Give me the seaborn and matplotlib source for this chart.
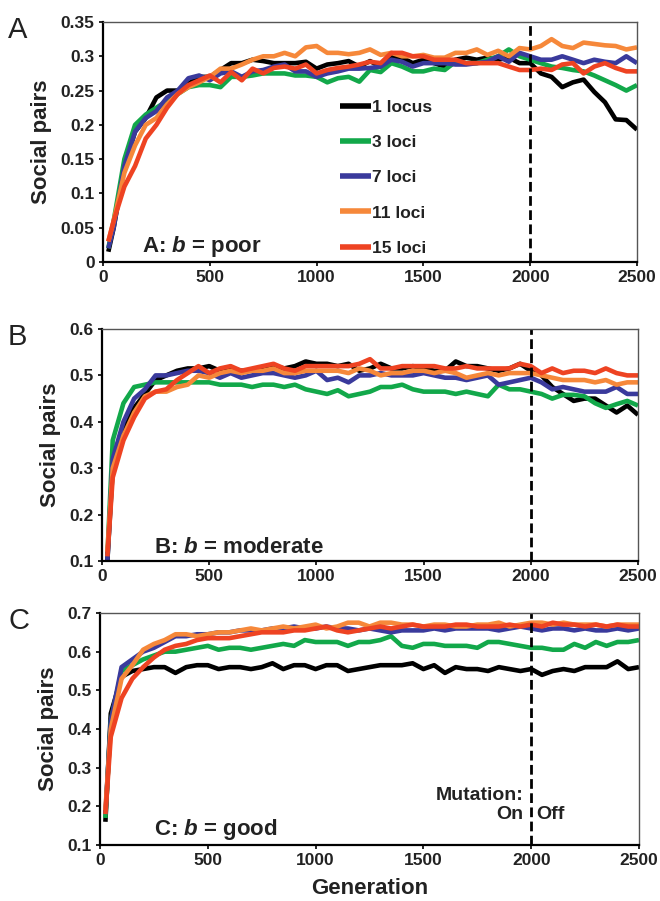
import matplotlib
matplotlib.use("Agg")
import matplotlib.pyplot as plt
import seaborn as sns
import pandas as pd

sns.set_style("white")
plt.rcParams['font.family'] = ['Liberation Sans', 'DejaVu Sans']
plt.rcParams['mathtext.fontset'] = 'custom'
plt.rcParams['mathtext.it'] = 'Liberation Sans:bold:italic'
plt.rcParams['mathtext.rm'] = 'Liberation Sans:bold'

generations = [25] + list(range(50, 2501, 50))
series_names = ["1 locus", "3 loci", "7 loci", "11 loci", "15 loci"]
colors = ["#000000", "#12A84A", "#3A3A9C", "#F6883A", "#EE4322"]

# Panel A: b = poor
a_1 = [0.015, 0.05, 0.14, 0.19, 0.21, 0.24, 0.25, 0.25, 0.26, 0.27,
       0.27, 0.28, 0.29, 0.29, 0.295, 0.293, 0.29, 0.29, 0.29, 0.292,
       0.282, 0.288, 0.29, 0.293, 0.285, 0.293, 0.285, 0.3, 0.298, 0.29,
       0.295, 0.29, 0.285, 0.295, 0.298, 0.295, 0.298, 0.295, 0.298, 0.29,
       0.29, 0.275, 0.27, 0.255, 0.262, 0.266, 0.248, 0.233, 0.208, 0.207,
       0.193]
a_3 = [0.02, 0.06, 0.15, 0.2, 0.215, 0.225, 0.235, 0.245, 0.255, 0.258,
       0.258, 0.255, 0.27, 0.27, 0.272, 0.275, 0.275, 0.275, 0.272, 0.272,
       0.27, 0.262, 0.268, 0.27, 0.263, 0.28, 0.277, 0.29, 0.285, 0.278,
       0.278, 0.282, 0.28, 0.292, 0.29, 0.29, 0.295, 0.3, 0.31, 0.3,
       0.295, 0.29, 0.285, 0.283, 0.28, 0.278, 0.272, 0.265, 0.258, 0.25,
       0.258]
a_7 = [0.02, 0.05, 0.14, 0.19, 0.21, 0.22, 0.24, 0.25, 0.268, 0.272,
       0.265, 0.275, 0.278, 0.27, 0.278, 0.28, 0.285, 0.288, 0.278, 0.278,
       0.27, 0.275, 0.278, 0.282, 0.282, 0.283, 0.285, 0.295, 0.292, 0.285,
       0.29, 0.29, 0.29, 0.288, 0.288, 0.29, 0.292, 0.3, 0.292, 0.305,
       0.3, 0.295, 0.295, 0.3, 0.295, 0.29, 0.295, 0.292, 0.29, 0.3,
       0.29]
a_11 = [0.03, 0.06, 0.13, 0.17, 0.2, 0.21, 0.23, 0.245, 0.255, 0.262,
        0.27, 0.282, 0.282, 0.288, 0.295, 0.3, 0.3, 0.305, 0.3, 0.313,
        0.315, 0.305, 0.305, 0.303, 0.305, 0.31, 0.302, 0.305, 0.3, 0.3,
        0.302, 0.298, 0.298, 0.305, 0.305, 0.31, 0.302, 0.308, 0.3, 0.312,
        0.31, 0.315, 0.325, 0.315, 0.312, 0.32, 0.318, 0.316, 0.315, 0.31,
        0.313]
a_15 = [0.03, 0.06, 0.11, 0.14, 0.18, 0.2, 0.225, 0.245, 0.258, 0.265,
        0.272, 0.262, 0.277, 0.265, 0.282, 0.275, 0.283, 0.285, 0.282, 0.288,
        0.275, 0.28, 0.283, 0.285, 0.288, 0.292, 0.29, 0.305, 0.305, 0.3,
        0.3, 0.295, 0.295, 0.295, 0.29, 0.29, 0.29, 0.29, 0.285, 0.28,
        0.28, 0.282, 0.28, 0.288, 0.29, 0.275, 0.285, 0.29, 0.283, 0.278,
        0.278]

# Panel B: b = moderate
b_1 = [0.1, 0.3, 0.38, 0.43, 0.46, 0.49, 0.5, 0.51, 0.515, 0.515,
       0.52, 0.51, 0.515, 0.51, 0.51, 0.515, 0.52, 0.515, 0.52, 0.53,
       0.525, 0.525, 0.52, 0.525, 0.51, 0.515, 0.525, 0.515, 0.515, 0.52,
       0.515, 0.51, 0.51, 0.53, 0.52, 0.52, 0.515, 0.51, 0.515, 0.525,
       0.51, 0.5, 0.475, 0.46, 0.445, 0.45, 0.45, 0.435, 0.42, 0.435,
       0.415]
b_3 = [0.11, 0.36, 0.44, 0.475, 0.48, 0.485, 0.485, 0.485, 0.485, 0.485,
       0.485, 0.48, 0.48, 0.48, 0.475, 0.48, 0.48, 0.475, 0.48, 0.47,
       0.465, 0.46, 0.468, 0.455, 0.46, 0.465, 0.475, 0.475, 0.48, 0.47,
       0.465, 0.465, 0.465, 0.46, 0.465, 0.46, 0.455, 0.48, 0.47, 0.47,
       0.465, 0.46, 0.45, 0.458, 0.458, 0.455, 0.44, 0.43, 0.438, 0.445,
       0.435]
b_7 = [0.1, 0.32, 0.4, 0.45, 0.47, 0.5, 0.5, 0.505, 0.51, 0.51,
       0.505, 0.495, 0.505, 0.495, 0.5, 0.505, 0.505, 0.5, 0.495, 0.5,
       0.51, 0.49, 0.495, 0.485, 0.5, 0.5, 0.505, 0.5, 0.5, 0.5,
       0.505, 0.5, 0.495, 0.495, 0.49, 0.495, 0.5, 0.48, 0.485, 0.49,
       0.495, 0.485, 0.47, 0.475, 0.47, 0.465, 0.465, 0.465, 0.475, 0.46,
       0.46]
b_11 = [0.12, 0.3, 0.37, 0.42, 0.455, 0.465, 0.465, 0.475, 0.48, 0.5,
        0.495, 0.505, 0.51, 0.505, 0.51, 0.51, 0.515, 0.505, 0.505, 0.51,
        0.51, 0.51, 0.51, 0.505, 0.515, 0.51, 0.5, 0.505, 0.505, 0.51,
        0.51, 0.505, 0.51, 0.505, 0.495, 0.5, 0.505, 0.5, 0.505, 0.505,
        0.505, 0.5, 0.495, 0.49, 0.49, 0.49, 0.485, 0.49, 0.48, 0.485,
        0.485]
b_15 = [0.11, 0.28, 0.36, 0.41, 0.45, 0.465, 0.47, 0.49, 0.505, 0.52,
        0.505, 0.515, 0.52, 0.51, 0.515, 0.52, 0.525, 0.515, 0.51, 0.52,
        0.52, 0.52, 0.52, 0.52, 0.525, 0.535, 0.515, 0.515, 0.52, 0.52,
        0.52, 0.52, 0.515, 0.515, 0.52, 0.515, 0.515, 0.515, 0.515, 0.525,
        0.52, 0.505, 0.515, 0.505, 0.51, 0.51, 0.505, 0.515, 0.505, 0.5,
        0.5]

# Panel C: b = good
c_1 = [0.16, 0.44, 0.535, 0.55, 0.555, 0.56, 0.56, 0.545, 0.56, 0.565,
       0.565, 0.555, 0.56, 0.56, 0.555, 0.56, 0.57, 0.555, 0.565, 0.565,
       0.555, 0.565, 0.565, 0.55, 0.555, 0.56, 0.565, 0.565, 0.565, 0.57,
       0.555, 0.565, 0.545, 0.56, 0.555, 0.555, 0.55, 0.56, 0.555, 0.55,
       0.555, 0.54, 0.55, 0.555, 0.55, 0.56, 0.56, 0.56, 0.575, 0.555,
       0.56]
c_3 = [0.17, 0.42, 0.55, 0.565, 0.58, 0.59, 0.6, 0.6, 0.605, 0.61,
       0.615, 0.605, 0.61, 0.61, 0.605, 0.61, 0.615, 0.62, 0.615, 0.63,
       0.625, 0.625, 0.625, 0.615, 0.625, 0.625, 0.63, 0.64, 0.615, 0.61,
       0.62, 0.62, 0.615, 0.615, 0.615, 0.61, 0.625, 0.625, 0.62, 0.615,
       0.61, 0.61, 0.605, 0.605, 0.62, 0.61, 0.625, 0.615, 0.625, 0.625,
       0.63]
c_7 = [0.18, 0.42, 0.56, 0.58, 0.6, 0.61, 0.625, 0.64, 0.64, 0.645,
       0.645, 0.65, 0.65, 0.655, 0.655, 0.655, 0.66, 0.66, 0.665, 0.66,
       0.66, 0.665, 0.66, 0.66, 0.655, 0.66, 0.655, 0.65, 0.655, 0.655,
       0.655, 0.66, 0.655, 0.66, 0.66, 0.66, 0.66, 0.655, 0.66, 0.665,
       0.66, 0.655, 0.66, 0.66, 0.655, 0.66, 0.655, 0.655, 0.66, 0.655,
       0.66]
c_11 = [0.19, 0.4, 0.53, 0.565, 0.605, 0.62, 0.63, 0.645, 0.645, 0.64,
        0.645, 0.65, 0.65, 0.655, 0.66, 0.655, 0.66, 0.665, 0.66, 0.665,
        0.67, 0.66, 0.665, 0.675, 0.675, 0.665, 0.675, 0.675, 0.67, 0.67,
        0.665, 0.67, 0.67, 0.665, 0.665, 0.67, 0.67, 0.675, 0.665, 0.67,
        0.675, 0.675, 0.67, 0.675, 0.67, 0.67, 0.67, 0.665, 0.67, 0.67,
        0.67]
c_15 = [0.18, 0.38, 0.48, 0.53, 0.56, 0.585, 0.605, 0.615, 0.62, 0.63,
        0.635, 0.635, 0.635, 0.64, 0.645, 0.65, 0.65, 0.65, 0.655, 0.655,
        0.66, 0.665, 0.655, 0.65, 0.655, 0.66, 0.665, 0.66, 0.665, 0.67,
        0.665, 0.665, 0.665, 0.67, 0.67, 0.665, 0.665, 0.665, 0.67, 0.665,
        0.67, 0.665, 0.675, 0.67, 0.67, 0.665, 0.67, 0.665, 0.67, 0.665,
        0.665]

panels = [
    dict(letter="A", label="A: $b$ = poor", data=[a_1, a_3, a_7, a_11, a_15],
         ylim=(0, 0.35), yticks=[0, 0.05, 0.1, 0.15, 0.2, 0.25, 0.3, 0.35],
         yticklabels=["0", "0.05", "0.1", "0.15", "0.2", "0.25", "0.3", "0.35"]),
    dict(letter="B", label="B: $b$ = moderate", data=[b_1, b_3, b_7, b_11, b_15],
         ylim=(0.1, 0.6), yticks=[0.1, 0.2, 0.3, 0.4, 0.5, 0.6],
         yticklabels=["0.1", "0.2", "0.3", "0.4", "0.5", "0.6"]),
    dict(letter="C", label="C: $b$ = good", data=[c_1, c_3, c_7, c_11, c_15],
         ylim=(0.1, 0.7), yticks=[0.1, 0.2, 0.3, 0.4, 0.5, 0.6, 0.7],
         yticklabels=["0.1", "0.2", "0.3", "0.4", "0.5", "0.6", "0.7"]),
]
xticks = [0, 500, 1000, 1500, 2000, 2500]
xticklabels = ["0", "500", "1000", "1500", "2000", "2500"]

W, H = 660, 901
fig = plt.figure(figsize=(W / 100, H / 100), dpi=100)
rects = [(103, 22, 637, 262), (102, 329, 638, 561), (100, 613, 639, 845)]
label_x = [0.073, 0.097, 0.10]
tick_font = dict(family=['Liberation Sans Narrow', 'Liberation Sans'], size=12.5, weight="bold")

for i, (p, (l, t, r, b)) in enumerate(zip(panels, rects)):
    ax = fig.add_axes([l / W, 1 - b / H, (r - l) / W, (b - t) / H])
    rows = []
    for name, vals in zip(series_names, p["data"]):
        for g, v in zip(generations, vals):
            rows.append({"Generation": g, "value": v, "series": name})
    df = pd.DataFrame(rows)
    sns.lineplot(data=df, x="Generation", y="value", hue="series",
                 hue_order=series_names, palette=colors, linewidth=3.3,
                 ax=ax, legend=(i == 0), solid_capstyle="butt")
    ax.axvline(2000, color="black", linestyle=(0, (3.5, 1.6)), linewidth=2)
    ax.set_xlim(0, 2500)
    ax.set_ylim(*p["ylim"])
    ax.set_xticks(xticks)
    ax.set_xticklabels(xticklabels, fontdict=tick_font, color="#222222")
    ax.set_yticks(p["yticks"])
    ax.set_yticklabels(p["yticklabels"], fontdict=tick_font, color="#222222")
    ax.tick_params(axis="both", direction="out", length=3, width=1.2, color="black", pad=3,
                   bottom=True, left=True)
    for s in ["left", "bottom"]:
        ax.spines[s].set_color("black")
        ax.spines[s].set_linewidth(1.6)
    for s in ["top", "right"]:
        ax.spines[s].set_color("#555555")
        ax.spines[s].set_linewidth(1.0)
    ax.set_ylabel("Social pairs", fontsize=16, fontweight="bold", color="#222222", labelpad=6)
    if i == 2:
        ax.set_xlabel("Generation", fontsize=16, fontweight="bold", color="#222222", labelpad=7)
    else:
        ax.set_xlabel("")
    ax.text(label_x[i], 0.012, p["label"], transform=ax.transAxes,
            fontsize=16, fontweight="bold", color="#222222", ha="left", va="bottom")
    fig.text(8 / W, 1 - (t - 6) / H, p["letter"], fontsize=21, color="#222222",
             ha="left", va="top")
    if i == 0:
        leg = ax.legend(loc="upper left", bbox_to_anchor=(0.415, 0.74), frameon=False,
                        handlelength=1.8, handletextpad=0.05, labelspacing=1.15,
                        prop={"weight": "bold", "size": 12.5,
                              "family": ['Liberation Sans Narrow', 'Liberation Sans']})
        for h in leg.get_lines():
            h.set_linewidth(4)
        for txt in leg.get_texts():
            txt.set_color("#222222")
    if i == 2:
        ann = dict(fontsize=14, fontweight="bold", color="#222222", va="center",
                   family=['Liberation Sans Narrow', 'Liberation Sans'])
        ax.text(1962, 0.229, "Mutation:", ha="right", **ann)
        ax.text(1962, 0.178, "On", ha="right", **ann)
        ax.text(2022, 0.178, "Off", ha="left", **ann)

fig.savefig("out.png", dpi=100)
